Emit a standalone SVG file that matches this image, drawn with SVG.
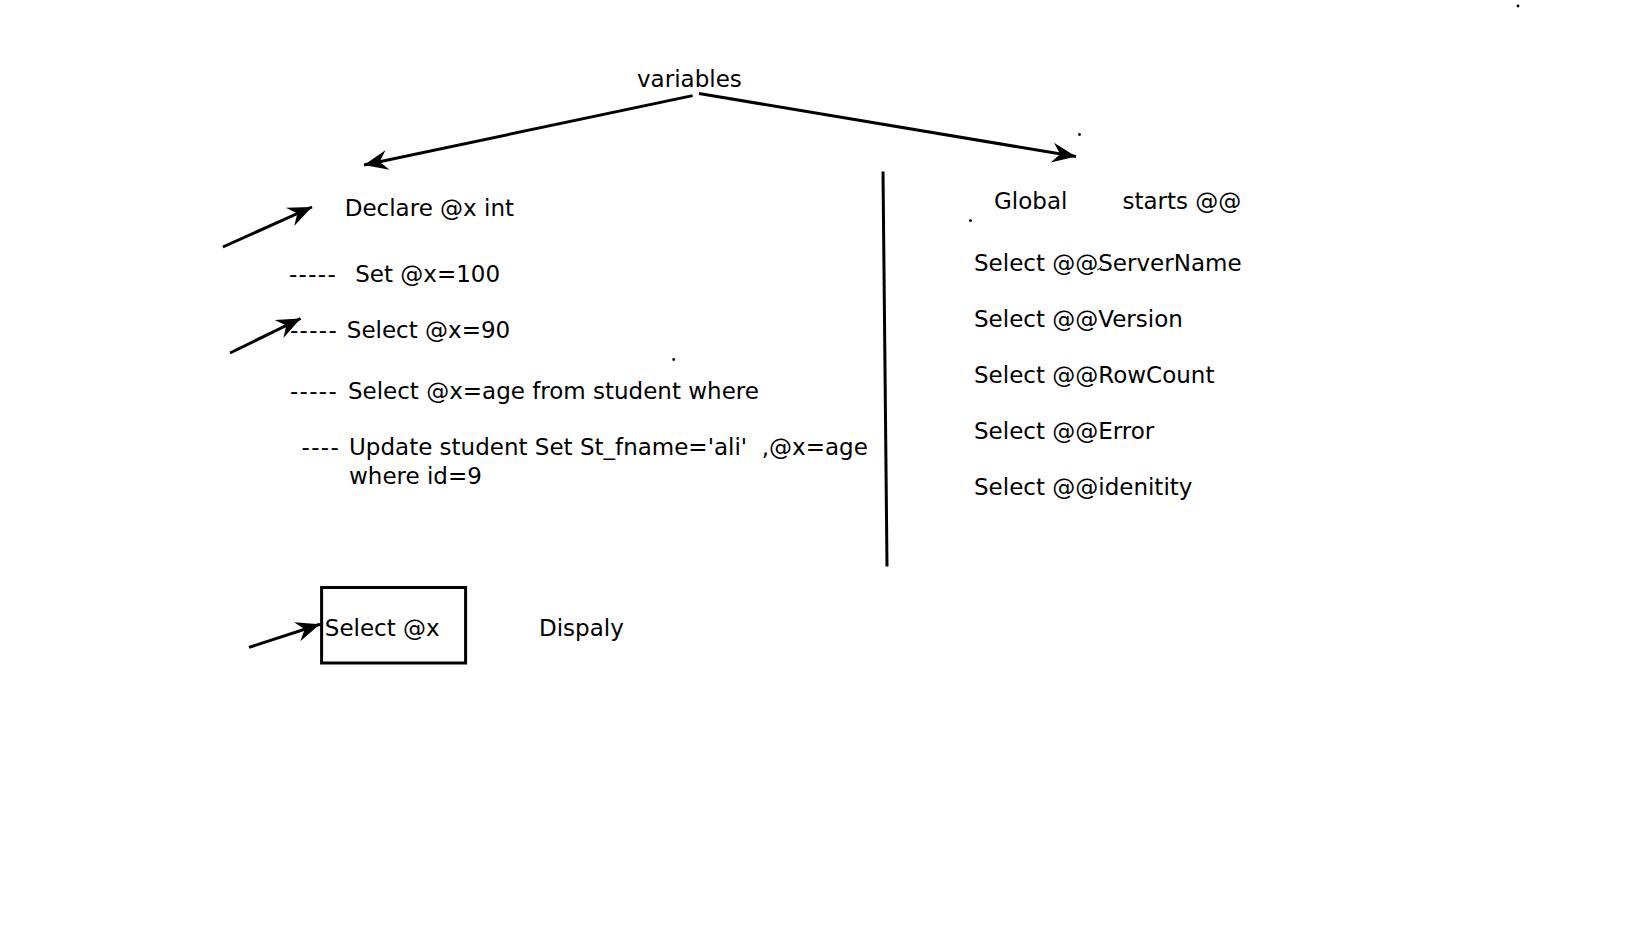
<svg xmlns="http://www.w3.org/2000/svg" width="1648" height="927" viewBox="0 0 1648 927">
<style>
  .t { font-family: "DejaVu Sans", sans-serif; font-size: 23px; fill: #000; }
  .d { letter-spacing: 1.3px; }
  .ln { stroke: #000; stroke-width: 3; fill: none; }
  .dot { fill: #000; }
</style>
<defs>
  <marker id="ah" viewBox="-26 -12 28 24" refX="0" refY="0" markerWidth="28" markerHeight="24" markerUnits="userSpaceOnUse" orient="auto">
    <path d="M0,0 L-24,-10 L-16,0 L-24,10 Z" fill="#000"/>
  </marker>
</defs>
<rect width="1648" height="927" fill="#fff"/>

<g id="connectors">
  <line class="ln" x1="692.6" y1="95.6" x2="364" y2="165" marker-end="url(#ah)"/>
  <line class="ln" x1="699" y1="93.5" x2="1076" y2="156.6" marker-end="url(#ah)"/>
  <line class="ln" x1="883" y1="171.5" x2="887" y2="566.5"/>
  <line class="ln" x1="222.8" y1="247" x2="312" y2="207" marker-end="url(#ah)"/>
  <line class="ln" x1="230" y1="353" x2="300.6" y2="318.5" marker-end="url(#ah)"/>
  <line class="ln" x1="249" y1="647.4" x2="320" y2="624.3" marker-end="url(#ah)"/>
</g>

<g id="variables">
  <text class="t" x="637" y="87" font-size="22.6">variables</text>
</g>

<g id="declare">
  <text class="t" x="344.7" y="216">Declare @x int</text>
</g>
<g id="set">
  <text class="t" y="281.7"><tspan class="d" x="289">-----</tspan><tspan x="355.2">Set @x=100</tspan></text>
</g>
<g id="select90">
  <text class="t" y="337.5"><tspan class="d" x="290">-----</tspan><tspan x="346.8">Select @x=90</tspan></text>
</g>
<g id="selectage">
  <text class="t" y="399.4"><tspan class="d" x="290">-----</tspan><tspan x="347.9">Select @x=age from student where</tspan></text>
</g>
<g id="update">
  <text class="t" y="455"><tspan class="d" x="301.6">----</tspan><tspan x="349" xml:space="preserve">Update student Set St_fname='ali'  ,@x=age</tspan></text>
  <text class="t" x="349" y="483.5">where id=9</text>
</g>

<g id="global">
  <text class="t" x="994" y="209">Global</text>
  <text class="t" x="1122.5" y="209">starts @@</text>
</g>
<g id="servername">
  <text class="t" x="974" y="271">Select @@ServerName</text>
  <path d="M1097,270 q3,-1 5,-4" stroke="#000" stroke-width="1" fill="none"/>
</g>
<g id="version">
  <text class="t" x="974" y="327">Select @@Version</text>
</g>
<g id="rowcount">
  <text class="t" x="974" y="382.6">Select @@RowCount</text>
</g>
<g id="error">
  <text class="t" x="974" y="439.3">Select @@Error</text>
</g>
<g id="identity">
  <text class="t" x="974" y="495">Select @@idenitity</text>
</g>

<g id="selectx">
  <rect x="321.6" y="587.5" width="144" height="75.5" fill="none" stroke="#000" stroke-width="3"/>
  <text class="t" x="324.8" y="636">Select @x</text>
</g>
<g id="display">
  <text class="t" x="539" y="636">Dispaly</text>
</g>

<g id="dots">
  <circle class="dot" cx="1079.5" cy="134.5" r="1.4"/>
  <circle class="dot" cx="970.5" cy="220.7" r="1.4"/>
  <circle class="dot" cx="673.7" cy="359.5" r="1.4"/>
  <circle class="dot" cx="1518" cy="6" r="1.4"/>
</g>
</svg>
